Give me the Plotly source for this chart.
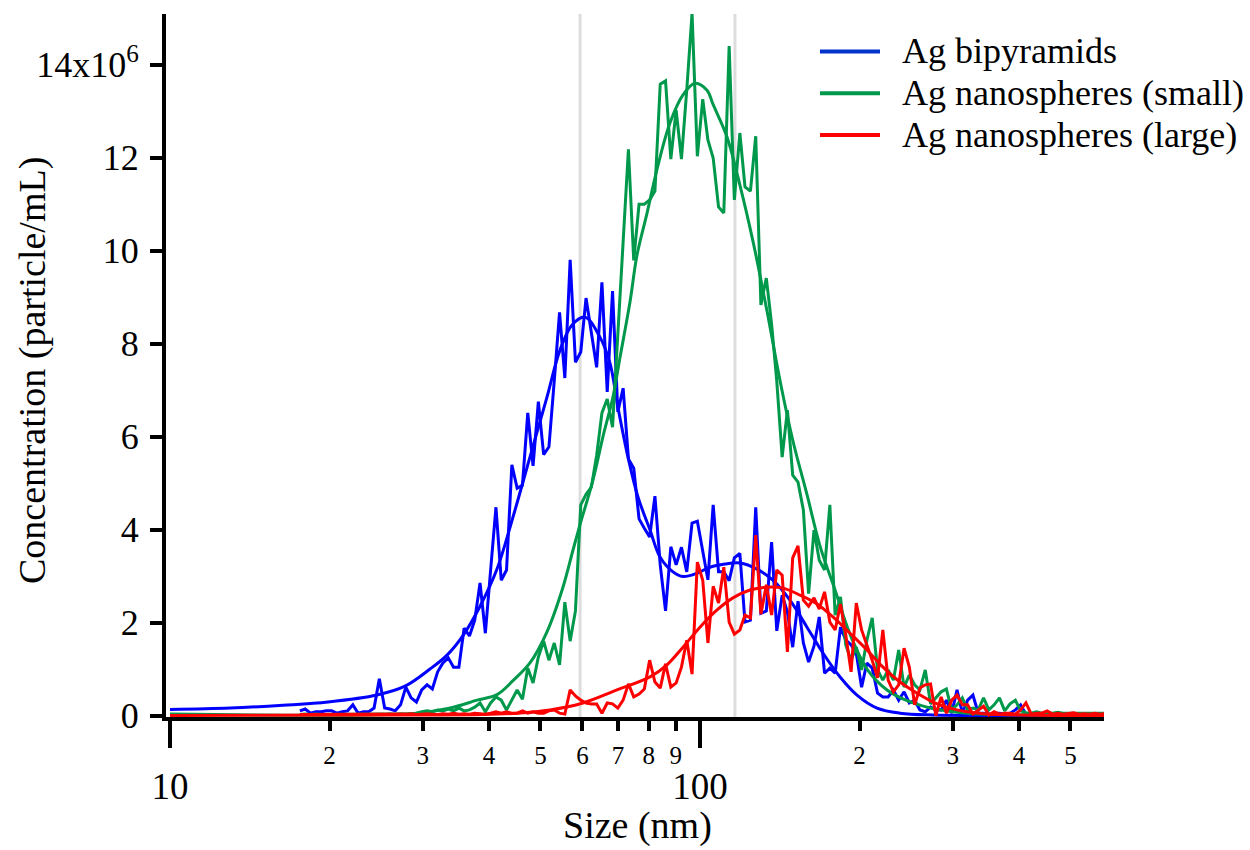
import plotly.graph_objects as go

# ---------------- data ----------------
# bin centres (nm) shared by the three measured size distributions
size_nm = [
    17.58, 17.99, 18.41, 18.84, 19.28, 19.72, 20.18, 20.65, 21.13, 21.63,
    22.13, 22.65, 23.17, 23.71, 24.27, 24.83, 25.41, 26.00, 26.61, 27.23,
    27.86, 28.51, 29.17, 29.85, 30.55, 31.26, 31.99, 32.73, 33.50, 34.28,
    35.08, 35.89, 36.73, 37.58, 38.46, 39.36, 40.27, 41.21, 42.17, 43.15,
    44.16, 45.19, 46.24, 47.32, 48.42, 49.55, 50.70, 51.88, 53.09, 54.33,
    55.59, 56.89, 58.21, 59.57, 60.95, 62.37, 63.83, 65.31, 66.83, 68.39,
    69.98, 71.61, 73.28, 74.99, 76.74, 78.52, 80.35, 82.22, 84.14, 86.10,
    88.10, 90.16, 92.26, 94.41, 96.61, 98.86, 101.2, 103.5, 105.9, 108.4,
    110.9, 113.5, 116.1, 118.9, 121.6, 124.5, 127.4, 130.3, 133.4, 136.5,
    139.6, 142.9, 146.2, 149.6, 153.1, 156.7, 160.3, 164.1, 167.9, 171.8,
    175.8, 179.9, 184.1, 188.4, 192.8, 197.2, 201.8, 206.5, 211.3, 216.3,
    221.3, 226.5, 231.7, 237.1, 242.7, 248.3, 254.1, 260.0, 266.1, 272.3,
    278.6, 285.1, 291.7, 298.5, 305.5, 312.6, 319.9, 327.3, 335.0, 342.8,
    350.8, 358.9, 367.3, 375.8, 384.6, 393.6, 402.7, 412.1, 421.7, 431.5,
    441.6, 451.9, 462.4, 473.2, 484.2, 495.5, 507.0, 518.8, 530.9, 543.3,
    555.9, 568.9, 582.1,
]

# concentrations in units of 10^6 particle/mL
bipyramid_conc = [
    0.10, 0.14, 0.05, 0.08, 0.08, 0.10, 0.10, 0.05, 0.08, 0.10,
    0.23, 0.05, 0.08, 0.08, 0.16, 0.79, 0.16, 0.14, 0.10, 0.23,
    0.61, 0.38, 0.29, 0.55, 0.66, 0.57, 0.94, 1.13, 1.24, 1.04,
    1.04, 1.88, 1.71, 2.05, 2.85, 1.77, 3.13, 4.48, 2.91, 3.13,
    5.39, 4.89, 4.95, 6.51, 5.37, 6.75, 5.61, 5.78, 7.20, 8.67,
    7.26, 9.80, 7.60, 7.82, 8.98, 8.20, 7.49, 9.32, 6.96, 9.13,
    6.53, 7.04, 5.52, 5.32, 4.23, 4.03, 3.84, 4.72, 3.24, 2.25,
    3.63, 3.24, 3.62, 3.09, 4.14, 4.18, 3.54, 2.92, 4.53, 3.09,
    3.09, 2.90, 3.39, 3.49, 2.01, 2.05, 4.48, 2.20, 2.25, 3.73,
    1.82, 2.59, 2.23, 1.47, 2.46, 1.56, 1.15, 1.49, 2.12, 0.91,
    1.02, 0.91, 1.90, 1.62, 1.52, 1.34, 0.61, 1.13, 1.02, 0.48,
    0.40, 0.40, 0.55, 0.33, 0.51, 0.27, 0.33, 0.12, 0.08, 0.18,
    0.12, 0.12, 0.33, 0.05, 0.55, 0.05, 0.33, 0.44, 0.05, 0.05,
    0.03, 0.05, 0.05, 0.03, 0.05, 0.12, 0.23, 0.03, 0.03, 0.05,
    0.03, 0.02, 0.03, 0.05, 0.02, 0.03, 0.02, 0.03, 0.02, 0.02,
    0.03, 0.02, 0.02,
]

small_sphere_conc = [
    0.02, 0.03, 0.02, 0.03, 0.02, 0.02, 0.03, 0.02, 0.03, 0.03,
    0.02, 0.03, 0.02, 0.03, 0.03, 0.02, 0.03, 0.04, 0.03, 0.04,
    0.03, 0.04, 0.05, 0.08, 0.10, 0.08, 0.12, 0.10, 0.14, 0.10,
    0.16, 0.10, 0.12, 0.18, 0.27, 0.08, 0.27, 0.40, 0.33, 0.12,
    0.33, 0.55, 0.35, 1.02, 0.70, 1.26, 1.60, 1.19, 1.56, 1.09,
    2.44, 1.60, 2.25, 4.53, 4.76, 4.91, 5.60, 6.51, 6.81, 6.20,
    8.20, 10.20, 12.18, 9.79, 11.00, 11.00, 11.09, 11.28, 13.58, 13.65,
    11.97, 13.02, 11.97, 13.45, 15.10, 12.03, 13.26, 12.38, 11.99, 10.94,
    10.81, 14.40, 11.09, 12.53, 11.37, 11.28, 12.46, 8.83, 9.41, 8.42,
    7.19, 5.56, 6.57, 5.17, 5.02, 4.42, 2.62, 3.99, 3.34, 3.13,
    4.53, 2.16, 2.55, 1.52, 1.19, 1.47, 0.98, 1.62, 2.10, 0.98,
    0.76, 0.98, 0.76, 1.41, 0.61, 0.87, 0.66, 0.55, 0.98, 0.25,
    0.38, 0.51, 0.57, 0.12, 0.23, 0.38, 0.12, 0.16, 0.12, 0.38,
    0.12, 0.23, 0.38, 0.10, 0.25, 0.33, 0.10, 0.06, 0.05, 0.08,
    0.05, 0.06, 0.05, 0.07, 0.05, 0.05, 0.06, 0.05, 0.05, 0.06,
    0.05, 0.05, 0.05,
]

large_sphere_conc = [
    0.02, 0.02, 0.03, 0.02, 0.02, 0.03, 0.02, 0.02, 0.03, 0.02,
    0.03, 0.02, 0.02, 0.03, 0.02, 0.03, 0.02, 0.03, 0.03, 0.02,
    0.03, 0.04, 0.02, 0.03, 0.04, 0.03, 0.02, 0.04, 0.03, 0.05,
    0.03, 0.04, 0.03, 0.05, 0.04, 0.03, 0.05, 0.08, 0.05, 0.08,
    0.05, 0.05, 0.10, 0.05, 0.08, 0.05, 0.05, 0.10, 0.12, 0.05,
    0.03, 0.55, 0.42, 0.33, 0.27, 0.25, 0.25, 0.05, 0.27, 0.25,
    0.16, 0.33, 0.68, 0.40, 0.46, 0.57, 1.19, 0.72, 0.59, 1.11,
    0.61, 0.70, 1.04, 1.62, 0.89, 3.30, 2.91, 1.56, 2.78, 2.42,
    3.19, 2.01, 1.75, 1.84, 2.16, 2.10, 3.88, 2.18, 2.81, 2.16,
    3.13, 3.02, 1.37, 3.39, 3.65, 2.48, 2.35, 2.53, 2.29, 2.66,
    2.01, 1.84, 2.40, 1.73, 0.94, 2.42, 1.84, 1.52, 1.19, 0.81,
    1.84, 0.76, 0.51, 0.66, 1.45, 1.04, 0.23, 0.59, 0.66, 0.68,
    0.00, 0.40, 0.05, 0.33, 0.44, 0.23, 0.23, 0.03, 0.12, 0.20,
    0.01, 0.08, 0.03, 0.05, 0.05, 0.03, 0.12, 0.27, 0.03, 0.05,
    0.05, 0.10, 0.03, 0.05, 0.03, 0.04, 0.06, 0.03, 0.04, 0.03,
    0.05, 0.03, 0.04,
]

# fitted (smooth) distributions
bipyramid_fit_size = [
    10.0, 12.98, 16.34, 19.87, 24.58, 27.76, 30.95, 33.32, 35.71, 38.46,
    41.40, 44.38, 47.77, 51.44, 54.43, 57.35, 60.68, 64.75, 67.63, 70.02,
    73.13, 76.38, 80.49, 84.05, 88.94, 92.88, 98.69, 104.4, 111.5, 119.0,
    128.1, 137.3, 147.8, 159.2, 170.7, 183.8, 197.8, 215.8, 238.5, 275.2,
    368.0, 580.0,
]
bipyramid_fit_conc = [
    0.13, 0.16, 0.22, 0.29, 0.44, 0.63, 1.00, 1.30, 1.72, 2.35,
    3.15, 4.27, 5.56, 6.85, 7.86, 8.40, 8.57, 8.14, 7.58, 6.63,
    5.56, 4.70, 3.99, 3.41, 3.09, 2.99, 3.06, 3.19, 3.26, 3.28,
    3.15, 2.91, 2.48, 1.90, 1.34, 0.83, 0.44, 0.16, 0.05, 0.01,
    0.0, 0.0,
]

small_sphere_fit_size = [
    10.0, 29.24, 33.76, 37.96, 41.40, 44.38, 47.77, 51.44, 55.14, 57.60,
    59.36, 62.83, 65.61, 68.51, 70.64, 73.79, 76.05, 79.43, 82.96, 87.80,
    92.88, 97.87, 103.1, 105.8, 112.4, 119.0, 125.9, 133.8, 141.6, 149.8,
    159.2, 168.4, 179.8, 191.9, 206.6, 225.4, 245.9, 275.2, 319.0, 368.0,
    580.0,
]
small_sphere_fit_conc = [
    0.03, 0.05, 0.16, 0.33, 0.45, 0.75, 1.13, 1.80, 2.76, 3.56,
    4.10, 5.07, 6.00, 6.85, 7.70, 8.90, 9.90, 10.80, 11.75, 12.75,
    13.35, 13.60, 13.45, 13.15, 12.45, 11.40, 10.20, 8.70, 7.20, 5.90,
    4.75, 3.65, 2.70, 1.75, 1.00, 0.55, 0.32, 0.15, 0.05, 0.02,
    0.01,
]

large_sphere_fit_size = [
    10.0, 27.16, 38.96, 45.15, 52.12, 60.14, 69.72, 80.49, 86.65, 92.88,
    100.0, 107.7, 115.4, 124.3, 133.8, 143.4, 154.4, 166.3, 178.2, 191.9,
    206.6, 221.5, 238.5, 256.8, 275.2, 296.3, 319.0, 342.0, 401.6, 580.0,
]
large_sphere_fit_conc = [
    0.0, 0.01, 0.02, 0.05, 0.12, 0.27, 0.55, 0.83, 1.09, 1.47,
    1.90, 2.27, 2.53, 2.70, 2.76, 2.74, 2.59, 2.40, 2.12, 1.77,
    1.41, 1.04, 0.72, 0.48, 0.29, 0.16, 0.08, 0.04, 0.01, 0.0,
]

# light grey reference markers (nm)
reference_sizes_nm = [59.4, 116.4]

series_names = ["Ag bipyramids", "Ag nanospheres (small)", "Ag nanospheres (large)"]

y_tick_values = [0, 2, 4, 6, 8, 10, 12, 14]
y_tick_labels = ["0", "2", "4", "6", "8", "10", "12", "14x10<sup>6</sup>"]
x_major_ticks = [10, 100]
x_major_labels = ["10", "100"]
x_minor_ticks = [20, 30, 40, 50, 60, 70, 80, 90, 200, 300, 400, 500]
x_minor_labels = ["2", "3", "4", "5", "6", "7", "8", "9", "2", "3", "4", "5"]

# ---------------- styling ----------------
FONT = "Liberation Serif"
BLUE = "#0000FF"
GREEN = "#00994C"
RED = "#FF0000"
LEGEND_COLORS = ["#0033CC", GREEN, RED]
X_RANGE_LOG = [0.99245, 2.7623]
Y_RANGE = [-0.032, 15.09]

fig = go.Figure()

measured = [bipyramid_conc, small_sphere_conc, large_sphere_conc]
fit_sizes = [bipyramid_fit_size, small_sphere_fit_size, large_sphere_fit_size]
fit_concs = [bipyramid_fit_conc, small_sphere_fit_conc, large_sphere_fit_conc]
colors = [BLUE, GREEN, RED]

for name, conc, fx, fy, col in zip(series_names, measured, fit_sizes, fit_concs, colors):
    fig.add_trace(go.Scatter(
        x=size_nm, y=conc, mode="lines", name=name,
        line=dict(color=col, width=3), showlegend=False,
    ))
    fig.add_trace(go.Scatter(
        x=fx, y=fy, mode="lines", name=name + " (fit)",
        line=dict(color=col, width=3, shape="spline", smoothing=1.0),
        showlegend=False,
    ))

# empty trace so the minor-label axis gets its own (overlaid) subplot
fig.add_trace(go.Scatter(x=[], y=[], xaxis="x2", yaxis="y", showlegend=False,
                         hoverinfo="skip"))

shapes = []
for xs in reference_sizes_nm:
    shapes.append(dict(type="line", xref="x", yref="paper", x0=xs, x1=xs,
                       y0=0, y1=1, layer="below",
                       line=dict(color="#DDDDDD", width=3)))

# hand-drawn legend (long line samples like the reference)
legend_y = [0.9467, 0.8872, 0.8279]
annotations = []
for name, col, ly in zip(series_names, LEGEND_COLORS, legend_y):
    shapes.append(dict(type="line", xref="paper", yref="paper",
                       x0=0.6972, x1=0.7612, y0=ly, y1=ly,
                       line=dict(color=col, width=4)))
    annotations.append(dict(text=name, xref="paper", yref="paper",
                            x=0.7825, y=ly, xanchor="left", yanchor="middle",
                            showarrow=False,
                            font=dict(family=FONT, size=36, color="black")))

annotations.append(dict(text="Size (nm)", xref="paper", yref="paper",
                        x=0.503, y=-0.1878, xanchor="center", yanchor="bottom",
                        showarrow=False,
                        font=dict(family=FONT, size=38, color="black")))
annotations.append(dict(text="Concentration (particle/mL)", xref="paper",
                        yref="paper", x=-0.1418, y=0.4936, textangle=-90,
                        xanchor="center", yanchor="middle", showarrow=False,
                        font=dict(family=FONT, size=38, color="black")))

fig.update_layout(
    width=1250, height=850,
    margin=dict(l=166, r=146, t=14, b=133),
    paper_bgcolor="white", plot_bgcolor="white",
    font=dict(family=FONT, color="black"),
    showlegend=False,
    shapes=shapes,
    annotations=annotations,
    xaxis=dict(
        type="log", range=X_RANGE_LOG,
        tickmode="array", tickvals=x_major_ticks, ticktext=x_major_labels,
        ticks="outside", ticklen=27, tickwidth=4, tickcolor="black",
        showline=True, linewidth=4, linecolor="black",
        showgrid=False, zeroline=False,
        tickfont=dict(family=FONT, size=37, color="black"),
        ticklabelstandoff=7,
    ),
    xaxis2=dict(
        type="log", range=X_RANGE_LOG, overlaying="x", anchor="y", side="bottom",
        tickmode="array", tickvals=x_minor_ticks, ticktext=x_minor_labels,
        ticks="outside", ticklen=13, tickwidth=4, tickcolor="black",
        showline=False, showgrid=False, zeroline=False,
        tickfont=dict(family=FONT, size=25, color="black"),
        ticklabelstandoff=3,
    ),
    yaxis=dict(
        range=Y_RANGE,
        tickmode="array", tickvals=y_tick_values, ticktext=y_tick_labels,
        ticks="outside", ticklen=12, tickwidth=3.5, tickcolor="black",
        showline=True, linewidth=4, linecolor="black",
        showgrid=False, zeroline=False,
        tickfont=dict(family=FONT, size=36, color="black"),
        ticklabelstandoff=4,
    ),
)

fig.write_html("out.html")
